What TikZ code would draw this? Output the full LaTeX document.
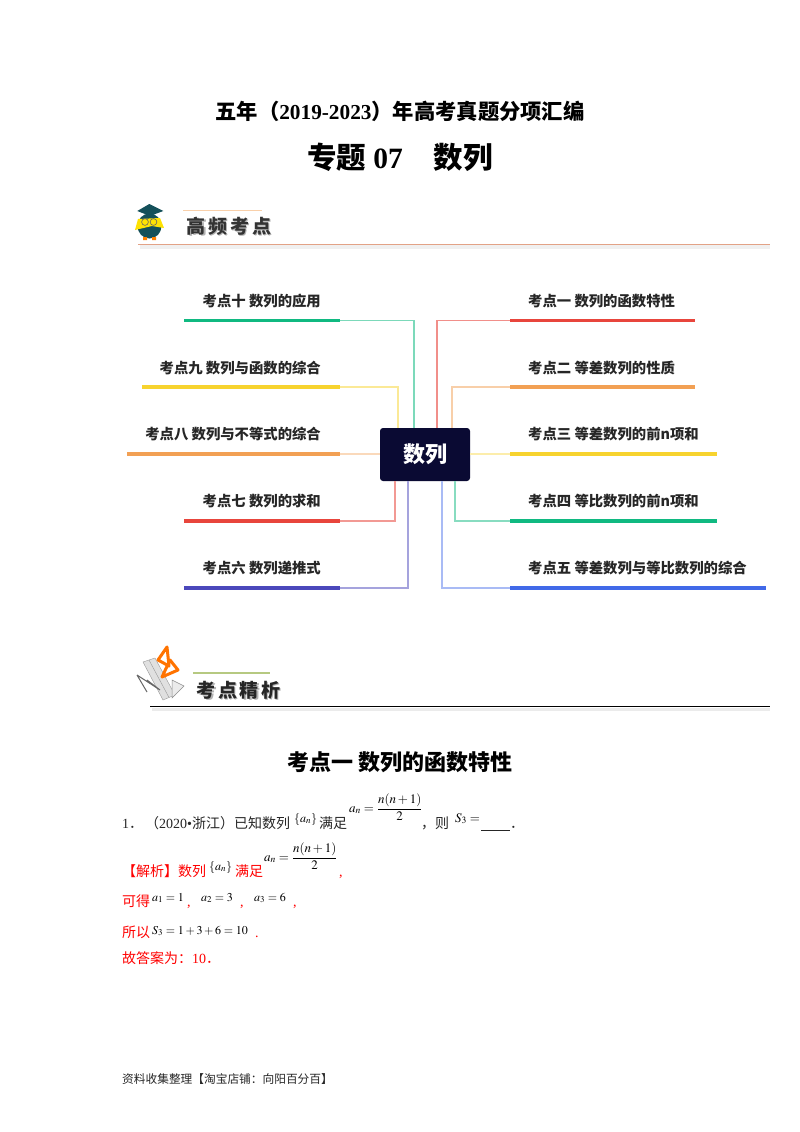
\documentclass[tikz,border=0pt]{standalone}
\usepackage{amsmath}
\usepackage{mathptmx}
\usepackage[no-math]{fontspec}
\setmainfont{Noto Sans CJK SC}
\newfontfamily\tnr{Liberation Serif}
\usepackage{tikz}
\definecolor{boxdark}{HTML}{0A0A33}
\definecolor{barred}{HTML}{E8453C}
\definecolor{barorange}{HTML}{F2A054}
\definecolor{baryellow}{HTML}{F7D32E}
\definecolor{bargreen}{HTML}{10B981}
\definecolor{barblue}{HTML}{4169E8}
\definecolor{barpurple}{HTML}{4B48BB}
\definecolor{owlteal}{HTML}{14505A}
\tikzset{
  x=1pt, y=-1pt,
  bar/.style={fill=#1, inner sep=0pt, minimum height=3.6pt},
  link/.style={draw=#1, line width=1.2pt},
  label/.style={inner sep=0pt, font=\fontsize{14.35}{16}\selectfont\bfseries, text=black!85},
  body/.style={inner sep=0pt, anchor=base west, font=\fontsize{14}{16}\selectfont, text=black!85},
  answer/.style={body, text=red},
  formula/.style={inner sep=0pt, anchor=base west, font=\fontsize{13}{15}\selectfont},
  smallformula/.style={formula, font=\fontsize{12}{14}\selectfont},
  head/.style={inner sep=0pt, font=\fontsize{19}{21}\selectfont\bfseries},
}
\begin{document}
\begin{tikzpicture}

\useasboundingbox[fill=white] (0,0) rectangle (800,1132);

% titles
\node[inner sep=0pt, anchor=base, font=\fontsize{21.3}{24}\selectfont\bfseries] (title) at (400,119) {五年（{\tnr 2019-2023}）年高考真题分项汇编};
\node[inner sep=0pt, anchor=base, font=\fontsize{29.5}{32}\selectfont\bfseries] (subject) at (400,168) {专题{\tnr\ 07}\hspace{31pt}数列};

% first heading with owl
\fill[owlteal] (149.5,226) ellipse (12 and 12.5);
\fill[yellow!85!orange] (138,219) -- (160,218) -- (164,228) -- (152,226) -- (135,230) -- cycle;
\draw[black!60, line width=0.6pt] (145,222) circle (3.4) (153.5,222) circle (3.4);
\fill[owlteal] (149.3,204) -- (163.3,211) -- (150,216) -- (137.3,211) -- cycle;
\fill[orange] (143,237) rectangle (147,240) (152,237) rectangle (156,240);
\draw[barorange!50, line width=1pt] (183,210) -- (262,210);
\node[head, text=black!30] (shade1) at (230.5,227.5) {高\hspace{3pt}频\hspace{3pt}考\hspace{3pt}点};
\node[head, text=black!80] (head1) at (229,226) {高\hspace{3pt}频\hspace{3pt}考\hspace{3pt}点};
\fill[black!6] (140,245) rectangle (770,249);
\draw[brown!45!pink, line width=1pt] (138,244.5) -- (770,244.5);

% centre box
\node[fill=boxdark, rounded corners=3pt, minimum width=90pt, minimum height=53pt, inner sep=0pt,
  text=white, font=\fontsize{22}{24}\selectfont\bfseries] (box) at (425,454.5) {数列};

% right side
\node[bar=barred, minimum width=185pt] (bar1) at (602.5,320.5) {};
\node[bar=barorange, minimum width=185pt] (bar2) at (602.5,387) {};
\node[bar=baryellow, minimum width=207pt] (bar3) at (613.5,454) {};
\node[bar=bargreen, minimum width=207pt] (bar4) at (613.5,521) {};
\node[bar=barblue, minimum width=256pt] (bar5) at (638,588) {};

\node[label, anchor=base west] (lab1) at (528,306.5) {考点一 数列的函数特性};
\node[label, anchor=base west] (lab2) at (528,373) {考点二 等差数列的性质};
\node[label, anchor=base west] (lab3) at (528,439.5) {考点三 等差数列的前n项和};
\node[label, anchor=base west] (lab4) at (528,506.5) {考点四 等比数列的前n项和};
\node[label, anchor=base west] (lab5) at (528,573) {考点五 等差数列与等比数列的综合};

\coordinate (in1) at (437,428);
\coordinate (in2) at (452,428);
\coordinate (in4) at (455,481);
\coordinate (in5) at (442,481);
\draw[link=barred!60] (bar1.west) -| (in1);
\draw[link=barorange!50] (bar2.west) -| (in2);
\draw[link=baryellow!40] (bar3.west) -- (bar3.west -| box.east);
\draw[link=bargreen!50] (bar4.west) -| (in4);
\draw[link=barblue!45] (bar5.west) -| (in5);

% left side
\node[bar=bargreen, minimum width=156pt] (bar10) at (262,320.5) {};
\node[bar=baryellow, minimum width=198pt] (bar9) at (241,387) {};
\node[bar=barorange, minimum width=213pt] (bar8) at (233.5,454) {};
\node[bar=barred, minimum width=156pt] (bar7) at (262,521) {};
\node[bar=barpurple, minimum width=156pt] (bar6) at (262,588) {};

\node[label, anchor=base east] (lab10) at (321,306.5) {考点十 数列的应用};
\node[label, anchor=base east] (lab9) at (321,373) {考点九 数列与函数的综合};
\node[label, anchor=base east] (lab8) at (321,439.5) {考点八 数列与不等式的综合};
\node[label, anchor=base east] (lab7) at (321,506.5) {考点七 数列的求和};
\node[label, anchor=base east] (lab6) at (321,573) {考点六 数列递推式};

\coordinate (in10) at (414,428);
\coordinate (in9) at (398,428);
\coordinate (in7) at (395,481);
\coordinate (in6) at (408,481);
\draw[link=bargreen!55] (bar10.east) -| (in10);
\draw[link=baryellow!50] (bar9.east) -| (in9);
\draw[link=barorange!40] (bar8.east) -- (bar8.east -| box.west);
\draw[link=barred!55] (bar7.east) -| (in7);
\draw[link=barpurple!50] (bar6.east) -| (in6);

% second heading with tools
\fill[black!12] (143,662) -- (155,658) -- (175,695) -- (163,700) -- cycle;
\draw[black!40, line width=0.4pt] (143,662) -- (155,658) -- (175,695) -- (163,700) -- cycle;
\draw[black!40, line width=0.4pt] (149,660) -- (169,697.5);
\draw[orange!90!red, line width=3pt, line join=round] (167,647) -- (158,660) -- (169,666) -- cycle;
\draw[orange!90!red, line width=3pt, line join=round] (170,660) -- (178,670) -- (162,677) -- cycle;
\draw[black!60, line width=1pt] (137,675) -- (160,690) (137,675) -- (147,692) (160,690) -- (147,680);
\draw[black!45, fill=black!8, line width=0.5pt] (172,680) -- (172,698) -- (184,686) -- cycle;
\draw[green!30!brown!60, line width=1.2pt] (193,673) -- (270,673);
\node[head, text=black!30] (shade2) at (240,691.5) {考\hspace{2.5pt}点\hspace{2.5pt}精\hspace{2.5pt}析};
\node[head, text=black!85] (head2) at (238.5,690) {考\hspace{2.5pt}点\hspace{2.5pt}精\hspace{2.5pt}析};
\fill[black!8] (152,708) rectangle (770,711);
\draw[black, line width=1pt] (150,706.5) -- (770,706.5);

% worked example
\node[inner sep=0pt, anchor=base, font=\fontsize{22}{24}\selectfont\bfseries] (point1) at (400,770) {考点一\ 数列的函数特性};

\node[body] (q1) at (122,828) {{\tnr 1}．\hspace{2pt}（{\tnr 2020•}浙江）已知数列};
\node[smallformula] (q2) at (294,822) {$\{a_n\}$};
\node[body] (q3) at (319,828) {满足};
\node[formula] (q4) at (349,812) {$a_n=\dfrac{n(n+1)}{2}$};
\node[body] (q5) at (421,828) {，则};
\node[formula] (q6) at (455,822) {$S_3=$};
\node[body] (q7) at (481,828) {\underline{\hspace{29pt}}．};

\node[answer] (a1) at (122,876) {【解析】数列};
\node[smallformula] (a2) at (209,870) {$\{a_n\}$};
\node[answer] (a3) at (235,876) {满足};
\node[formula] (a4) at (264,861) {$a_n=\dfrac{n(n+1)}{2}$};
\node[answer] (a5) at (339,876) {{\tnr ,}};

\node[answer] (a6) at (122,906) {可得};
\node[smallformula] (a7) at (152,901) {$a_1=1$};
\node[answer] (a8) at (187,906) {{\tnr ,}};
\node[smallformula] (a9) at (201,901) {$a_2=3$};
\node[answer] (a10) at (240,906) {{\tnr ,}};
\node[smallformula] (a11) at (254,901) {$a_3=6$};
\node[answer] (a12) at (293,906) {{\tnr ,}};

\node[answer] (a13) at (122,937) {所以};
\node[smallformula] (a14) at (152,934) {$S_3=1+3+6=10$};
\node[answer] (a15) at (255,937) {{\tnr .}};

\node[answer] (a16) at (122,963) {故答案为：{\tnr 10}．};

\node[inner sep=0pt, anchor=base west, font=\fontsize{11.7}{14}\selectfont, text=black!85] (foot) at (122,1083.5) {资料收集整理【淘宝店铺：向阳百分百】};

\end{tikzpicture}
\end{document}
